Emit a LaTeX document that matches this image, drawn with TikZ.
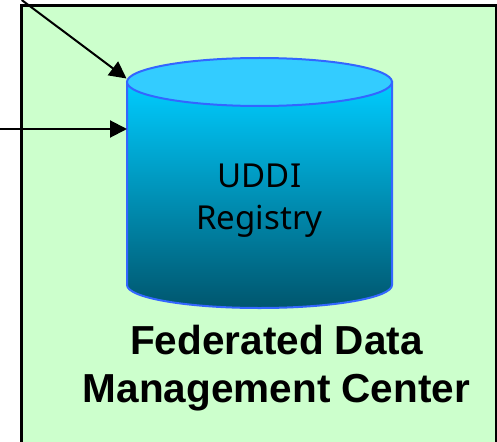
\documentclass[tikz,border=0pt]{standalone}
\usepackage{fontspec}
\setmainfont{Liberation Sans}
\newfontfamily\labelfont{Noto Sans}
\usepackage{xcolor}
\usetikzlibrary{shapes.geometric, arrows.meta, positioning}
\definecolor{panelgreen}{HTML}{CCFFCC}
\definecolor{regblue}{HTML}{3366FF}
\definecolor{regtop}{HTML}{33CCFF}
\definecolor{regupper}{HTML}{00CCFF}
\definecolor{reglower}{HTML}{00566E}

\begin{document}
\begin{tikzpicture}[x=1pt,y=-1pt]
		\tikzset{
			panel/.style={rectangle, draw=black, fill=panelgreen, line width=2.4pt, inner sep=0pt,
			minimum width=474.5pt, minimum height=460pt},
			registry/.style={draw=regblue, line width=2pt, top color=regupper, bottom color=reglower},
			lid/.style={ellipse, draw=regblue, fill=regtop, line width=2pt, inner sep=0pt,
			minimum width=265pt, minimum height=48pt},
			feed/.style={-{Triangle[length=17pt,width=17pt]}, line width=2pt}
		}
		\useasboundingbox (0,0) rectangle (497,441);
		\clip (0,0) rectangle (497,441);
		\node[panel](center) at (258.75,235.5){};
		\coordinate (lidleft) at (127,82);
		\coordinate (lidright) at (392,82);
		\coordinate (baseleft) at (127,285);
		\draw[registry](lidleft) -- (baseleft) arc[start angle=180, end angle=360, x radius=132.5pt, y radius=23pt] -- (lidright) -- cycle;
		\node[lid](lid) at (259.5,82){};
		\node[align=center, font=\labelfont\fontsize{33}{41.5}\selectfont](uddilabel) at (259.5,200.5){UDDI\\Registry};
		\node[align=center, font=\fontsize{40.5}{48}\selectfont\bfseries](title) at (276.5,368.5){Federated Data\\Management Center};

		\coordinate (upin) at (21.7,0);
		\coordinate (leftin) at (0,129);
		\coordinate (uptip) at (126.5,78.5);
		\coordinate (lefttip) at (127,129);
		\draw[feed](upin) -- (uptip);
		\draw[feed](leftin) -- (lefttip);
	\end{tikzpicture}
\end{document}
